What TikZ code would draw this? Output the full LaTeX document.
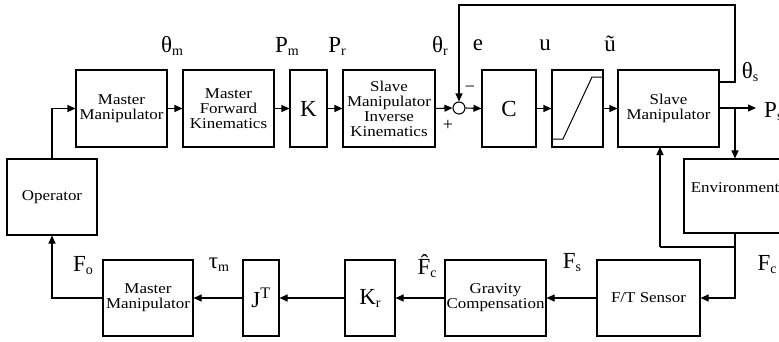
\documentclass[tikz,border=0pt]{standalone}
\usepackage{fontspec}
\setmainfont{Liberation Serif}
\newfontfamily\boxfam[FakeStretch=1.13]{Liberation Serif}
\usetikzlibrary{arrows.meta}
\newcommand\bxf{\boxfam\fontsize{15}{15}\selectfont}
\newcommand\lbf{\fontsize{23}{23}\selectfont}
\newcommand\lb[2]{#1\raisebox{-3pt}{\fontsize{14}{14}\selectfont #2}}
\begin{document}
\begin{tikzpicture}[x=1pt,y=-1pt,
  box/.style={draw, line width=1.1pt, inner sep=0pt, align=center, font=\bxf, minimum height=77pt},
  bigbox/.style={box, font=\lbf},
  lab/.style={font=\lbf, inner sep=0pt},
  arr/.style={-{Triangle[length=8pt,width=7pt]}, line width=1.1pt},
  ln/.style={line width=1.1pt}]
\useasboundingbox (0,0) rectangle (779,341);
% top row
\node[box, minimum width=91pt] (mm1) at (121.5,108.5) {Master\\Manipulator};
\node[box, minimum width=91pt] (mfk) at (228.5,108.5) {Master\\Forward\\Kinematics};
\node[bigbox, minimum width=37pt] (K) at (308.5,108.5) {K};
\node[box, minimum width=92pt] (sik) at (389,108.5) {Slave\\Manipulator\\Inverse\\Kinematics};
\node[draw, circle, line width=1.1pt, minimum size=12pt, inner sep=0pt] (sum) at (459,108) {};
\node[bigbox, minimum width=54pt] (C) at (509,108.5) {C};
\node[box, minimum width=51pt] (sat) at (577.5,108.5) {};
\node[box, minimum width=101pt] (slave) at (668.5,108.5) {Slave\\Manipulator};
\node[box, minimum width=104pt, minimum height=74pt] (env) at (736,196) {};
\node[font=\bxf, inner sep=0pt] (envt) at (735,188) {Environment};
% bottom row
\node[box, minimum width=90pt, minimum height=76pt] (op) at (52,197) {Operator};
\node[box, minimum width=90pt, minimum height=76pt] (mm2) at (148,298) {Master\\Manipulator};
\node[bigbox, minimum width=36pt, minimum height=76pt] (jt) at (261,298) {J\textsuperscript{T}};
\node[bigbox, minimum width=50pt, minimum height=76pt] (kr) at (370,298) {\lb{K}{r}};
\node[box, minimum width=101pt, minimum height=76pt] (grav) at (495.5,298) {Gravity\\Compensation};
\node[box, minimum width=103pt, minimum height=76pt] (ft) at (648.5,298) {F/T Sensor};
% saturation curve
\draw[line width=1pt] (553,139) -- (563,139) -- (592,77) -- (603,77);
% coordinates
\coordinate (ps) at (756,108);
\coordinate (fbA) at (735,82);
\coordinate (fbB) at (735,5);
\coordinate (fbC) at (459,5);
\coordinate (br) at (735,108);
\coordinate (eo) at (735,233);
\coordinate (eb) at (735,247);
\coordinate (ebl) at (660,247);
\coordinate (sb) at (660,147);
% top connectors
\draw[arr] (op.north) |- (mm1.west);
\draw[arr] (mm1.east) -- (mfk.west);
\draw[arr] (mfk.east) -- (K.west);
\draw[arr] (K.east) -- (sik.west);
\draw[arr] (sik.east) -- (sum.west);
\draw[arr] (sum.east) -- (C.west);
\draw[arr] (C.east) -- (sat.west);
\draw[arr] (sat.east) -- (slave.west);
\draw[arr] (slave.east |- br) -- (ps);
\draw[arr] (slave.east |- fbA) -- (fbA) -- (fbB) -- (fbC) -- (sum.north);
\draw[arr] (br) -- (br |- env.north);
\draw[arr] (eo) |- (ft.east);
\draw[ln] (eb) -- (ebl);
\draw[arr] (ebl) -- (sb);
% bottom connectors
\draw[arr] (ft.west) -- (grav.east);
\draw[arr] (grav.west) -- (kr.east);
\draw[arr] (kr.west) -- (jt.east);
\draw[arr] (jt.west) -- (mm2.east);
\draw[arr] (mm2.west) -| (op.south);
% labels
\node[lab] (lthm) at (172,46) {\lb{θ}{m}};
\node[lab] (lpm) at (287,46) {\lb{P}{m}};
\node[lab] (lpr) at (337,46) {\lb{P}{r}};
\node[lab] (lthr) at (440,46) {\lb{θ}{r}};
\node[lab] (le) at (478,45) {e};
\node[lab] (lu) at (545,45) {u};
\node[lab] (lut) at (610,44) {ũ};
\node[lab] (lths) at (750,72) {\lb{θ}{s}};
\node[lab, anchor=west] (lps) at (764,112) {\lb{P}{s}};
\node[font=\fontsize{18}{18}\selectfont, inner sep=0pt] (lminus) at (470,89) {−};
\node[font=\fontsize{18}{18}\selectfont, inner sep=0pt] (lplus) at (448,125) {+};
\node[lab] (lfo) at (83,266) {\lb{F}{o}};
\node[lab] (ltm) at (219,265) {\lb{τ}{m}};
\node[lab] (lfc) at (427,266) {\lb{\^F}{c}};
\node[lab] (lfs) at (572,263) {\lb{F}{s}};
\node[lab] (lfc2) at (767,265) {\lb{F}{c}};
\end{tikzpicture}
\end{document}
